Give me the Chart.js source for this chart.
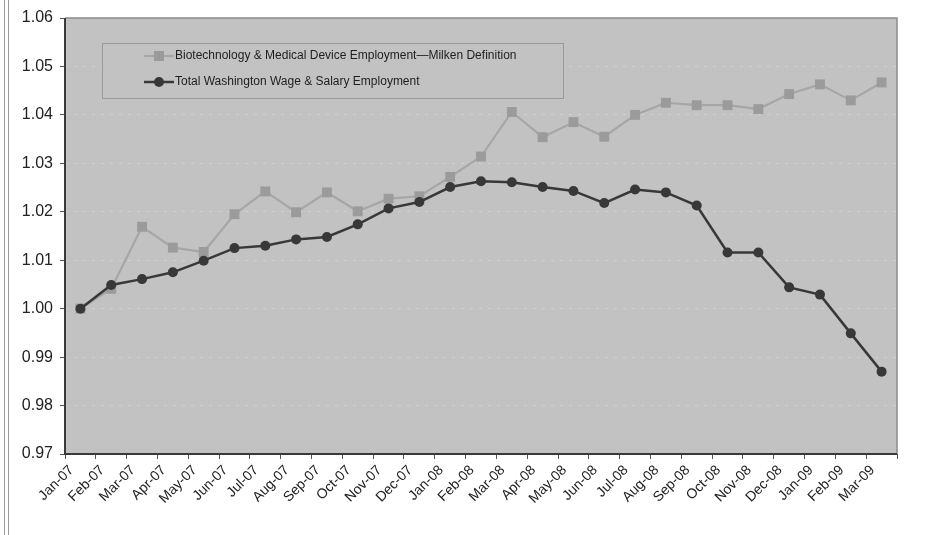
<!DOCTYPE html>
<html lang="en">
<head>
    <meta charset="UTF-8">
    <title>Washington Employment Index</title>
    <script src="https://cdn.jsdelivr.net/npm/chart.js@4/dist/chart.umd.min.js"></script>
    <style>
        html, body { margin: 0; padding: 0; background: #fff; }
        .wrap { position: relative; width: 927px; height: 535px; }
        .edge { position: absolute; left: 4px; top: 0; width: 3px; height: 535px;
                border-left: 1px solid #999; border-right: 1px solid #999; }
    </style>
</head>
<body>
<div class="wrap">
    <canvas id="chart" width="927" height="535"></canvas>
    <div class="edge"></div>
</div>
<script>
    var months = ['Jan-07', 'Feb-07', 'Mar-07', 'Apr-07', 'May-07', 'Jun-07', 'Jul-07', 'Aug-07', 'Sep-07',
        'Oct-07', 'Nov-07', 'Dec-07', 'Jan-08', 'Feb-08', 'Mar-08', 'Apr-08', 'May-08', 'Jun-08', 'Jul-08',
        'Aug-08', 'Sep-08', 'Oct-08', 'Nov-08', 'Dec-08', 'Jan-09', 'Feb-09', 'Mar-09'];

    var biotech = [1.000, 1.0041, 1.0169, 1.0126, 1.0117, 1.0195, 1.0242, 1.0199, 1.0240,
        1.0201, 1.0227, 1.0232, 1.0272, 1.0314, 1.0406, 1.0354, 1.0385, 1.0355, 1.0400,
        1.0425, 1.0420, 1.0420, 1.0412, 1.0443, 1.0463, 1.0430, 1.0467];

    var totalWA = [1.000, 1.0049, 1.0061, 1.0075, 1.0099, 1.0125, 1.0130, 1.0143, 1.0148,
        1.0174, 1.0207, 1.0220, 1.0251, 1.0263, 1.0261, 1.0251, 1.0243, 1.0218, 1.0246,
        1.0240, 1.0213, 1.0116, 1.0116, 1.0044, 1.0029, 0.9949, 0.9870];

    var seriesNames = ['Biotechnology & Medical Device Employment\u2014Milken Definition',
        'Total Washington Wage & Salary Employment'];

    var yMin = 0.97, yMax = 1.06, yStep = 0.01;

    var plotBg = '#c2c2c2';
    var fontFamily = '"Liberation Sans", Arial, sans-serif';

    // plot background, frame and the legend box inside the plot
    var framePlugin = {
        id: 'frame',
        beforeDraw: function (chart) {
            var a = chart.chartArea, ctx = chart.ctx;
            ctx.save();
            ctx.fillStyle = plotBg;
            ctx.fillRect(a.left, a.top, a.right - a.left, a.bottom - a.top);
            ctx.restore();
        },
        afterDraw: function (chart) {
            var a = chart.chartArea, ctx = chart.ctx;
            ctx.save();
            ctx.lineWidth = 1.5;
            ctx.strokeStyle = '#8a8a8a';
            ctx.beginPath();
            ctx.moveTo(a.left, a.top); ctx.lineTo(a.right, a.top); ctx.lineTo(a.right, a.bottom);
            ctx.stroke();
            ctx.lineWidth = 2;
            ctx.strokeStyle = '#3a3a3a';
            ctx.beginPath();
            ctx.moveTo(a.left, a.top); ctx.lineTo(a.left, a.bottom); ctx.lineTo(a.right, a.bottom);
            ctx.stroke();

            // legend
            var bx = a.left + 37, by = a.top + 25, bw = 461, bh = 55;
            ctx.fillStyle = plotBg;
            ctx.fillRect(bx, by, bw, bh);
            ctx.lineWidth = 1;
            ctx.strokeStyle = '#9a9a9a';
            ctx.strokeRect(bx + 0.5, by + 0.5, bw, bh);
            ctx.font = '12px ' + fontFamily;
            ctx.textBaseline = 'middle';
            chart.data.datasets.forEach(function (ds, i) {
                var y = by + 13 + i * 26;
                var x0 = bx + 42, x1 = bx + 72, xm = (x0 + x1) / 2;
                ctx.strokeStyle = ds.borderColor;
                ctx.lineWidth = ds.borderWidth;
                ctx.beginPath(); ctx.moveTo(x0, y); ctx.lineTo(x1, y); ctx.stroke();
                ctx.fillStyle = ds.pointBackgroundColor;
                if (ds.pointStyle === 'rect') {
                    ctx.fillRect(xm - 5, y - 5, 10, 10);
                } else {
                    ctx.beginPath(); ctx.arc(xm, y, 5, 0, Math.PI * 2); ctx.fill();
                }
                ctx.fillStyle = '#1e1e1e';
                ctx.fillText(ds.label, x1 + 1, y);
            });
            ctx.restore();
        }
    };

    new Chart(document.getElementById('chart'), {
        type: 'line',
        data: {
            labels: months,
            datasets: [{
                label: seriesNames[0],
                data: biotech,
                order: 2,
                borderColor: '#a6a6a6',
                borderWidth: 2.2,
                pointStyle: 'rect',
                pointRadius: 7,
                pointBackgroundColor: '#9b9b9b',
                pointBorderColor: '#9b9b9b',
                pointBorderWidth: 0,
                tension: 0
            }, {
                label: seriesNames[1],
                data: totalWA,
                order: 1,
                borderColor: '#383838',
                borderWidth: 2.5,
                pointStyle: 'circle',
                pointRadius: 5,
                pointBackgroundColor: '#383838',
                pointBorderColor: '#383838',
                pointBorderWidth: 0,
                tension: 0
            }]
        },
        options: {
            responsive: false,
            animation: false,
            layout: { padding: { left: 0, right: 30, top: 18, bottom: 0 } },
            plugins: {
                legend: { display: false },
                tooltip: { enabled: false }
            },
            scales: {
                x: {
                    offset: true,
                    afterFit: function (s) { s.height = 81; },
                    grid: { offset: true, drawOnChartArea: false, tickLength: 5, tickColor: '#555' },
                    border: { display: false },
                    ticks: {
                        maxRotation: 45, minRotation: 45, autoSkip: false, padding: 3, labelOffset: -9,
                        color: '#222',
                        font: { family: fontFamily, size: 14 }
                    }
                },
                y: {
                    min: yMin,
                    max: yMax,
                    afterFit: function (s) { s.width = 65; },
                    grid: {
                        color: 'rgba(212,212,212,0.8)', lineWidth: 1,
                        tickLength: 5, tickColor: '#555', tickBorderDash: [],
                        borderDash: [3, 6]
                    },
                    border: { display: false, dash: [3, 6] },
                    ticks: {
                        stepSize: yStep, padding: 7,
                        color: '#222',
                        font: { family: fontFamily, size: 16 },
                        callback: function (v) { return Number(v).toFixed(2); }
                    }
                }
            }
        },
        plugins: [framePlugin]
    });
</script>
</body>
</html>
